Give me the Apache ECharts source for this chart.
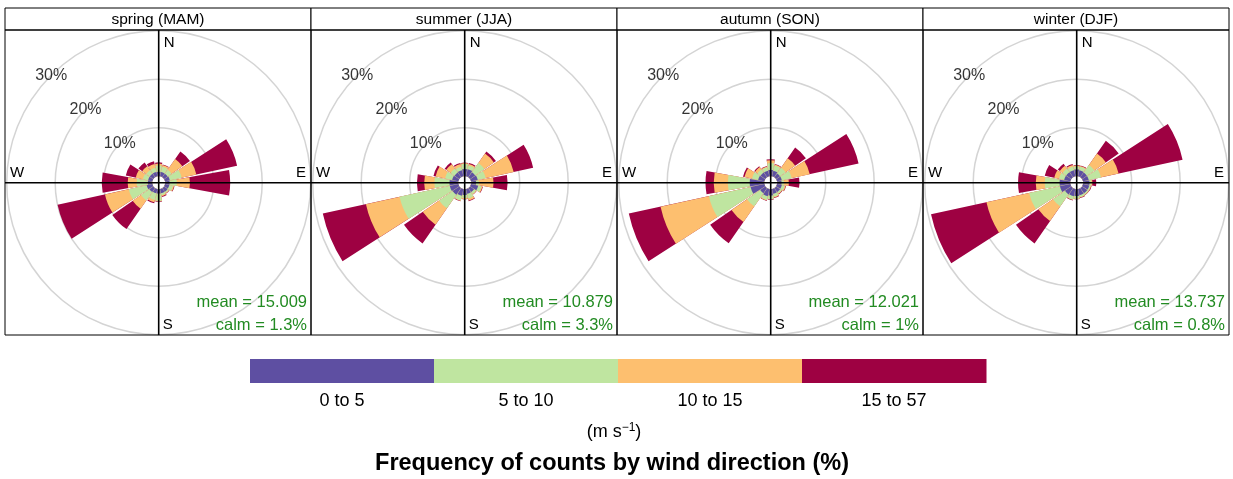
<!DOCTYPE html>
<html>
<head>
<meta charset="utf-8">
<script src="https://cdn.jsdelivr.net/npm/echarts@6/dist/echarts.min.js"></script>
<style>
html,body{margin:0;padding:0;background:#fff;}
#chart{width:1233px;height:479px;}
</style>
</head>
<body>
<div id="chart"></div>
<script>
// ---- data ----
const directions = ['N','NNE','NE','ENE','E','ESE','SE','SSE','S','SSW','SW','WSW','W','WNW','NW','NNW'];
const speedBins = ['0 to 5','5 to 10','10 to 15','15 to 57'];
const binColors = ['#5E4FA2','#BFE5A0','#FDBF6F','#9E0142'];
const seasonTitles = ['spring (MAM)','summer (JJA)','autumn (SON)','winter (DJF)'];
const meanSpeed = ['15.009','10.879','12.021','13.737'];
const calmPct = ['1.3%','3.3%','1%','0.8%'];
const ringTicks = [10, 20, 30];

// cumulative frequency (%) up to the top of each speed bin, by direction
const spring_0to5   = [0.9,0.9,0.9,1.0,0.9,0.9,0.9,0.9,0.9,0.9,1.0,1.2,0.9,0.9,0.9,0.9];
const spring_5to10  = [2.2,2.0,1.9,3.5,2.4,1.7,1.2,1.3,2.4,2.3,3.1,5.0,3.2,2.0,1.8,1.8];
const spring_10to15 = [2.6,2.4,4.6,6.6,5.1,1.9,1.3,1.5,2.5,2.8,5.2,10.0,5.05,3.5,2.8,2.6];
const spring_15to57 = [2.85,2.5,6.5,15.2,13.4,2.0,1.4,1.7,2.6,3.0,10.3,20.0,10.4,5.6,3.75,3.2];

const summer_0to5   = [1.5,1.5,1.3,1.4,1.0,1.5,1.0,1.0,1.2,1.4,1.7,1.8,1.8,1.3,1.2,1.3];
const summer_5to10  = [2.5,2.3,3.6,3.1,1.6,2.2,1.5,2.0,1.8,2.4,5.1,12.4,4.9,2.8,2.2,2.0];
const summer_10to15 = [2.7,2.6,6.0,9.0,4.6,2.4,1.6,2.4,2.0,2.5,9.2,19.5,7.0,4.8,3.3,2.6];
const summer_15to57 = [2.8,2.8,6.5,13.1,7.5,2.5,1.65,2.55,2.1,2.6,13.9,28.6,8.5,5.25,3.7,2.8];

const autumn_0to5   = [1.3,1.2,1.0,1.0,0.9,1.0,1.0,1.0,1.3,1.5,1.3,2.9,3.0,1.3,1.2,1.2];
const autumn_5to10  = [2.7,2.3,2.4,3.1,1.4,1.6,1.4,1.6,2.0,2.3,4.6,11.7,7.5,2.6,2.0,1.9];
const autumn_10to15 = [3.3,2.5,4.8,6.9,2.4,1.8,1.5,1.8,2.1,2.4,8.5,21.9,10.4,4.2,2.6,2.1];
const autumn_15to57 = [3.5,2.6,7.5,17.2,4.6,1.9,1.6,1.9,2.2,2.5,13.85,28.6,12.1,4.5,2.8,2.2];

const winter_0to5   = [1.4,1.3,1.2,1.2,1.3,1.3,1.3,1.3,1.4,1.5,1.6,2.2,2.2,1.3,1.3,1.3];
const winter_5to10  = [2.0,2.0,3.1,3.8,1.7,1.6,1.6,1.7,1.9,2.2,4.6,8.7,5.25,2.4,2.2,2.0];
const winter_10to15 = [2.2,2.2,6.0,7.5,1.9,1.7,1.7,1.8,2.0,2.3,8.3,17.7,7.1,3.4,2.9,2.4];
const winter_15to57 = [2.3,2.3,9.2,21.0,2.7,1.8,1.75,1.9,2.1,2.4,13.9,29.4,10.75,5.4,3.4,2.6];

const seasonData = [
  [spring_0to5, spring_5to10, spring_10to15, spring_15to57],
  [summer_0to5, summer_5to10, summer_10to15, summer_15to57],
  [autumn_0to5, autumn_5to10, autumn_10to15, autumn_15to57],
  [winter_0to5, winter_5to10, winter_10to15, winter_15to57]
];

// ---- layout ----
const FONT = 'Liberation Sans, Arial, Helvetica, sans-serif';
const panelLeft = 5, panelW = 306, stripTop = 8, stripBottom = 30, panelBottom = 335;
const cy = 182.7;
const innerR = 6.5, outerR = 152;
const centers = [0,1,2,3].map(i => panelLeft + i * panelW + 153.7);

const polar = [], angleAxis = [], radiusAxis = [], series = [], graphic = [];

centers.forEach((cx, i) => {
  polar.push({ center: [cx, cy], radius: [innerR, outerR] });
  angleAxis.push({
    polarIndex: i, type: 'category', data: directions,
    startAngle: 90 + 360 / directions.length / 2, clockwise: true,
    axisLine: {show: false}, axisTick: {show: false}, axisLabel: {show: false},
    splitLine: {show: false}
  });
  radiusAxis.push({
    polarIndex: i, min: 0, max: 30, interval: 10,
    axisLine: {show: false}, axisTick: {show: false}, axisLabel: {show: false},
    splitLine: {show: true, lineStyle: {color: ['rgba(0,0,0,0)', '#d4d4d4', '#d4d4d4', '#d4d4d4'], width: 1.5}}
  });
  for (let b = speedBins.length - 1; b >= 0; b--) {
    series.push({
      type: 'bar', coordinateSystem: 'polar', polarIndex: i,
      name: speedBins[b], data: seasonData[i][b],
      barGap: '-100%', barCategoryGap: '9%',
      itemStyle: {color: binColors[b]}, silent: true, animation: false
    });
  }
  series.push({
    type: 'scatter', coordinateSystem: 'polar', polarIndex: i,
    data: ringTicks.map(v => [v, 'NW']), symbolSize: 1,
    itemStyle: {color: 'rgba(0,0,0,0)'}, silent: true, animation: false, z: 5,
    label: {show: true, position: 'inside', formatter: p => p.value[0] + '%',
      color: '#000', fontSize: 16, fontFamily: FONT}
  });

  const x0 = panelLeft + i * panelW;
  // strip
  graphic.push({type: 'rect', shape: {x: x0, y: stripTop, width: panelW, height: stripBottom - stripTop},
    style: {fill: '#fff', stroke: '#000', lineWidth: 1}, z: 90});
  graphic.push({type: 'text', x: x0 + panelW / 2, y: (stripTop + stripBottom) / 2 + 0.5,
    style: {text: seasonTitles[i], fill: '#000', font: '15.5px ' + FONT, textAlign: 'center', textVerticalAlign: 'middle'}, z: 100});
  // panel frame
  graphic.push({type: 'rect', shape: {x: x0, y: stripBottom, width: panelW, height: panelBottom - stripBottom},
    style: {fill: 'none', stroke: '#000', lineWidth: 1}, z: 90});
  // compass cross
  graphic.push({type: 'line', shape: {x1: cx, y1: stripBottom, x2: cx, y2: panelBottom},
    style: {stroke: '#000', lineWidth: 1.6}, z: 95});
  graphic.push({type: 'line', shape: {x1: x0, y1: cy, x2: x0 + panelW, y2: cy},
    style: {stroke: '#000', lineWidth: 1.6}, z: 95});
  const lab = (t, x, y, align) => graphic.push({type: 'text', x, y,
    style: {text: t, fill: '#000', font: '15px ' + FONT, textAlign: align, textVerticalAlign: 'middle'}, z: 100});
  lab('N', cx + 5, 43, 'left');
  lab('S', cx + 4, 325, 'left');
  lab('W', x0 + 5, 173, 'left');
  lab('E', x0 + panelW - 5, 173, 'right');
  // mean / calm
  const gtxt = (t, y) => graphic.push({type: 'text', x: x0 + panelW - 4, y,
    style: {text: t, fill: '#228B22', font: '16.5px ' + FONT, textAlign: 'right', textVerticalAlign: 'middle'}, z: 100});
  gtxt('mean = ' + meanSpeed[i], 302);
  gtxt('calm = ' + calmPct[i], 325);
});

// ---- colour key ----
const keyX = 250, keyW = 736, keyY = 359, keyH = 24;
const segW = keyW / speedBins.length;
speedBins.forEach((s, b) => {
  graphic.push({type: 'rect', shape: {x: keyX + b * segW, y: keyY, width: segW + 0.5, height: keyH},
    style: {fill: binColors[b]}, z: 50});
  graphic.push({type: 'text', x: keyX + (b + 0.5) * segW, y: keyY + 42,
    style: {text: s, fill: '#000', font: '18px ' + FONT, textAlign: 'center', textVerticalAlign: 'middle'}, z: 50});
});
graphic.push({type: 'text', x: 614, y: 432,
  style: {text: '(m s{sup|−1})', fill: '#000', font: '18px ' + FONT, textAlign: 'center', textVerticalAlign: 'middle',
    rich: {sup: {fontSize: 12, verticalAlign: 'top', padding: [0, 0, 9, 0], fontFamily: FONT}}}, z: 50});
graphic.push({type: 'text', x: 612, y: 464,
  style: {text: 'Frequency of counts by wind direction (%)', fill: '#000', font: 'bold 23.5px ' + FONT,
    textAlign: 'center', textVerticalAlign: 'middle'}, z: 50});

const chart = echarts.init(document.getElementById('chart'), null, {renderer: 'canvas'});
chart.setOption({
  animation: false,
  backgroundColor: '#fff',
  polar, angleAxis, radiusAxis, series, graphic
});
</script>
</body>
</html>
